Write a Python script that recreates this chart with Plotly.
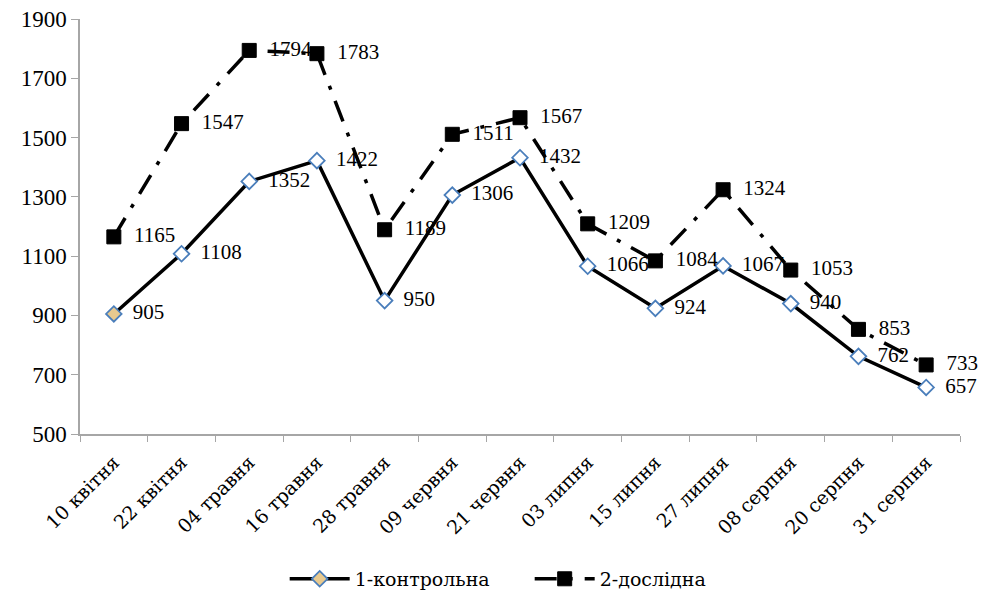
import plotly.graph_objects as go

categories = ["10 квітня", "22 квітня", "04 травня", "16 травня", "28 травня", "09 червня",
              "21 червня", "03 липня", "15 липня", "27 липня", "08 серпня", "20 серпня", "31 серпня"]
control = [905, 1108, 1352, 1422, 950, 1306, 1432, 1066, 924, 1067, 940, 762, 657]
experimental = [1165, 1547, 1794, 1783, 1189, 1511, 1567, 1209, 1084, 1324, 1053, 853, 733]

font_family = "Times New Roman, Liberation Serif, DejaVu Serif, serif"
cyr_family = "DejaVu Serif"

ctrl_fill = ["#E8C98E"] + ["white"] * (len(control) - 1)

fig = go.Figure()
fig.add_trace(go.Scatter(
    x=categories, y=control, name="1-контрольна",
    mode="lines+markers+text",
    line=dict(color="black", width=3.5),
    marker=dict(symbol="diamond", size=12, color=ctrl_fill,
                line=dict(color="#4A7EBB", width=1.8)),
    text=["  " + str(v) for v in control], textposition="middle right",
    textfont=dict(family=font_family, size=21, color="black"),
    cliponaxis=False,
))
fig.add_trace(go.Scatter(
    x=categories, y=experimental, name="2-дослідна",
    mode="lines+markers+text",
    line=dict(color="black", width=3.5, dash="22px,12px,4px,12px"),
    marker=dict(symbol="square", size=14, color="black",
                line=dict(color="black", width=1)),
    text=["  " + str(v) for v in experimental], textposition="middle right",
    textfont=dict(family=font_family, size=21, color="black"),
    cliponaxis=False,
))

fig.update_layout(
    width=981, height=595,
    margin=dict(l=80, r=21, t=19, b=161),
    paper_bgcolor="white", plot_bgcolor="white",
    font=dict(family=font_family, size=21, color="black"),
    showlegend=True,
    legend=dict(orientation="h", x=0.511, xanchor="center",
                yref="container", y=0.027, yanchor="middle",
                font=dict(family=cyr_family, size=19), itemwidth=60,
                entrywidth=170, entrywidthmode="pixels"),
)
fig.update_xaxes(
    type="category", range=[-0.5, 12.5], automargin=False,
    showline=True, linecolor="#A6A6A6", linewidth=1.5,
    ticks="outside", tickson="boundaries", ticklen=6, tickcolor="#A6A6A6",
    tickangle=-45, tickfont=dict(family=cyr_family, size=19),
    ticklabelstandoff=8,
    showgrid=False, zeroline=False,
)
fig.update_yaxes(
    range=[500, 1900], tickvals=list(range(500, 1901, 200)), automargin=False,
    showline=True, linecolor="#A6A6A6", linewidth=1.5,
    ticks="outside", ticklen=7, tickcolor="#A6A6A6",
    tickfont=dict(family=font_family, size=23),
    showgrid=False, zeroline=False,
)

fig.write_html("out.html", config={"displayModeBar": False},
               post_script="document.body.style.margin='0';")
